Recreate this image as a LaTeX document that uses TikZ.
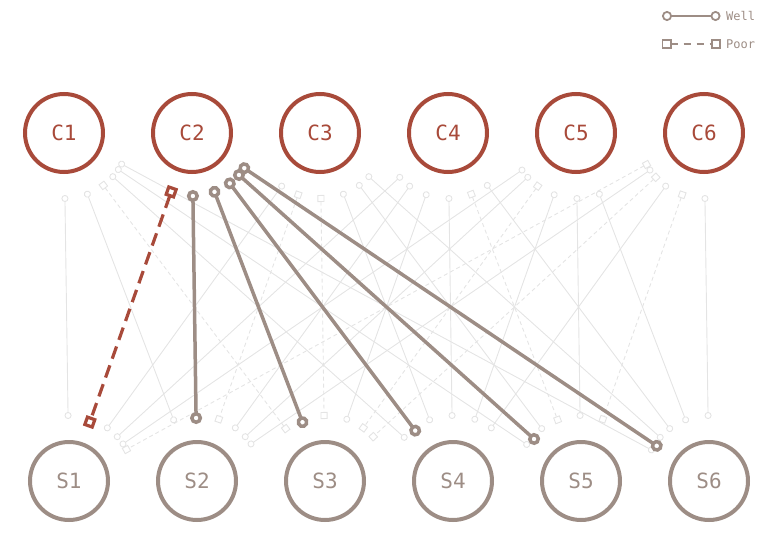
\documentclass[tikz,border=0pt]{standalone}
\usepackage{fontspec}
\setmonofont{DejaVu Sans Mono}
\usepackage{tikz}
\usetikzlibrary{arrows.meta}

\definecolor{clscol}{RGB}{168,74,58}
\definecolor{stucol}{RGB}{157,141,133}
\definecolor{faint}{RGB}{228,228,228}

\begin{document}
\begin{tikzpicture}[x=1pt,y=-1pt,
		cnode/.style={circle,draw=clscol,line width=4pt,minimum size=78pt,inner sep=0pt,outer sep=23pt,text=clscol,font=\ttfamily\fontsize{21}{21}\selectfont},
		snode/.style={cnode,draw=stucol,text=stucol},
		well/.style={draw=faint,line width=0.9pt,{Circle[length=7pt,fill=white]}-{Circle[length=7pt,fill=white]}},
		poor/.style={draw=faint,line width=0.9pt,dash pattern=on 4pt off 3pt,{Square[length=7pt,fill=white]}-{Square[length=7pt,fill=white]}},
		hiwell/.style={draw=stucol,line width=3.5pt,shorten <=-5pt,shorten >=-5pt,{Circle[length=12pt,fill=white]}-{Circle[length=12pt,fill=white]}},
		hipoor/.style={draw=clscol,line width=3.2pt,shorten <=-5pt,shorten >=-5pt,dash pattern=on 13pt off 7pt,{Square[length=11pt,fill=white]}-{Square[length=11pt,fill=white]}},
		legwell/.style={draw=stucol,line width=1.8pt,{Circle[length=10pt,fill=white]}-{Circle[length=10pt,fill=white]}},
		legpoor/.style={legwell,dash pattern=on 7pt off 6pt,{Square[length=10pt,fill=white]}-{Square[length=10pt,fill=white]}},
		legtext/.style={anchor=west,inner sep=0pt,text=stucol,font=\ttfamily\fontsize{12}{12}\selectfont}]
	\useasboundingbox (0,0) rectangle (774,546);
	\foreach \i in {1,...,6} {
		\node[cnode] (C\i) at ({64+128*(\i-1)},133) {C\i};
		\node[snode] (S\i) at ({69+128*(\i-1)},481) {S\i};
	}
	% other classes
	\foreach \c/\s in {1/1,1/2,1/4,1/5,1/6,3/1,3/4,3/5,3/6,4/1,4/2,4/3,4/4,4/6,5/1,5/2,5/4,5/5,5/6,6/2,6/4,6/6}
		\draw[well] (C\c) -- (S\s);
	\foreach \c/\s in {1/3,3/2,3/3,4/5,5/3,6/1,6/3,6/5}
		\draw[poor] (C\c) -- (S\s);
	% C2
	\draw[hipoor] (C2) -- (S1);
	\draw[hiwell] (C2) -- (S2);
	\draw[hiwell] (C2) -- (S3);
	\draw[hiwell] (C2) -- (S4);
	\draw[hiwell] (C2) -- (S5);
	\draw[hiwell] (C2) -- (S6);
	% legend
	\coordinate (wellA) at (662,16);
	\coordinate (wellB) at (720.5,16);
	\coordinate (poorA) at (661.5,44);
	\coordinate (poorB) at (721,44);
	\draw[legwell] (wellA) -- (wellB);
	\draw[legpoor] (poorA) -- (poorB);
	\node[legtext] (welltxt) at (726,16) {Well};
	\node[legtext] (poortxt) at (726,44) {Poor};
\end{tikzpicture}
\end{document}
